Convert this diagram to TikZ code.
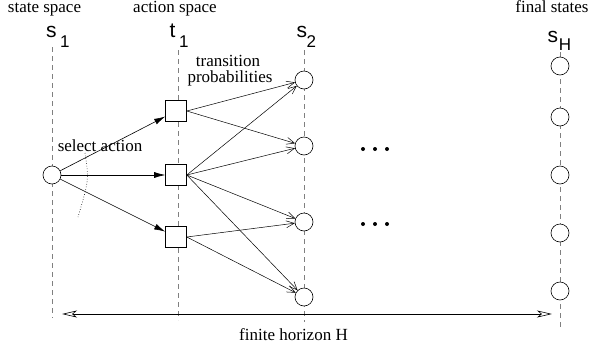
\documentclass[tikz,border=0pt]{standalone}
\usepackage{fontspec}
\setmainfont{Liberation Serif}
\newfontfamily\labfont{Liberation Sans}
\usetikzlibrary{arrows.meta}
\newcommand{\subsz}[1]{{\fontsize{17}{17}\selectfont #1}}
\begin{document}
\begin{tikzpicture}[x=1pt,y=-1pt,
  every node/.style={inner sep=0pt},
  txt/.style={font=\fontsize{17}{16}\selectfont, anchor=base},
  lab/.style={font=\labfont\fontsize{21}{21}\selectfont, anchor=base west},
  guide/.style={dash pattern=on 5pt off 4pt, draw=black!50, line width=0.8pt},
  state/.style={circle, draw, fill=white, minimum size=18pt, line width=0.6pt},
  act/.style={rectangle, draw, fill=white, minimum size=21pt, line width=0.6pt},
  sel/.style={-{Latex[length=11pt,width=6pt]}, line width=0.6pt},
  trans/.style={-{Straight Barb[length=8pt,width=7pt]}, line width=0.5pt},
  horiz/.style={{Stealth[open,length=15pt,width=7pt,inset=4pt]}-{Stealth[open,length=15pt,width=7pt,inset=4pt]}, line width=0.6pt},
  dotmark/.style={fill=black}
]
\useasboundingbox (0,0) rectangle (590,349);

% column labels
\node[txt] (tstate) at (44.5,12) {state space};
\node[txt] (taction) at (175,12) {action space};
\node[txt] (tfinal) at (552,12) {final states};

\node[lab] (ls1) at (46,37) {s\kern3.5pt\raisebox{-10pt}{\subsz{1}}};
\node[lab] (lt1) at (169.5,37) {t\kern3.7pt\raisebox{-10pt}{\subsz{1}}};
\node[lab] (ls2) at (296.5,37) {s\kern-0.5pt\raisebox{-10pt}{\subsz{2}}};
\node[lab] (lsH) at (547.5,42) {s\kern0.6pt\raisebox{-8pt}{\subsz{H}}};

% dashed guide lines
\draw[guide] (52,47) -- (52,318);
\draw[guide] (178,50) -- (178,320);
\draw[guide] (304,50) -- (304,322);
\draw[guide] (560,52) -- (560,328);

% nodes
\node[state] (s1) at (52,175) {};
\node[act] (a1) at (176,111) {};
\node[act] (a2) at (176,175) {};
\node[act] (a3) at (176,237) {};

\node[state] (b1) at (304,80) {};
\node[state] (b2) at (304,146) {};
\node[state] (b3) at (304,222) {};
\node[state] (b4) at (304,297) {};

\node[state] (h1) at (560,66) {};
\node[state] (h2) at (560,117) {};
\node[state] (h3) at (560,175) {};
\node[state] (h4) at (560,233) {};
\node[state] (h5) at (560,291) {};

% select action
\draw[sel] (s1) -- (a1);
\draw[sel] (s1) -- (a2);
\draw[sel] (s1) -- (a3);

% transitions
\draw[trans] (a1.east) -- (b1);
\draw[trans] (a1.east) -- (b2);
\draw[trans] (a2.east) -- (b1);
\draw[trans] (a2.east) -- (b2);
\draw[trans] (a2.east) -- (b3);
\draw[trans] (a2.east) -- (b4);
\draw[trans] (a3.east) -- (b3);
\draw[trans] (a3.east) -- (b4);

% labels
\node[txt] (tsel) at (100,151) {select action};
\draw[dotted, line width=0.6pt] (85,153) .. controls (89,180) .. (78,217);
\node[txt] (ttr1) at (228,66) {transition};
\node[txt] (ttr2) at (230,82) {probabilities};

% ellipses
\fill[dotmark] (363,149) circle (2);
\fill[dotmark] (375,149) circle (2);
\fill[dotmark] (387,149) circle (2);
\fill[dotmark] (363,224) circle (2);
\fill[dotmark] (375,224) circle (2);
\fill[dotmark] (387,224) circle (2);

% horizon
\coordinate (hl) at (62,314);
\coordinate (hr) at (552,314);
\draw[horiz] (hl) -- (hr);
\node[txt] (thor) at (293.5,340) {finite horizon H};
\end{tikzpicture}
\end{document}
